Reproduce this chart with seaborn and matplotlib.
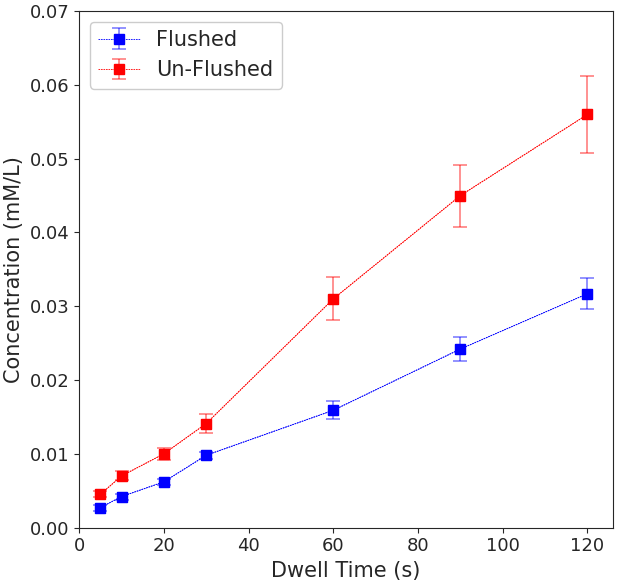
import matplotlib

matplotlib.use("Agg")

import matplotlib.pyplot as plt
import pandas as pd
import seaborn as sns

dwell_time = [5, 10, 20, 30, 60, 90, 120]
flushed = [0.0027, 0.0042, 0.0062, 0.0098, 0.0159, 0.0242, 0.0317]
flushed_err = [0.0004, 0.0004, 0.0004, 0.0005, 0.0012, 0.0016, 0.0021]
unflushed = [0.0045, 0.0070, 0.0100, 0.0141, 0.0310, 0.0450, 0.0560]
unflushed_err = [0.0004, 0.0006, 0.0008, 0.0013, 0.0029, 0.0042, 0.0052]

sns.set_style("ticks")
plt.rcParams["font.family"] = ["DejaVu Sans"]

fig, ax = plt.subplots(figsize=(6.17, 5.85), dpi=100)

series = [
    ("Flushed", flushed, flushed_err, "blue"),
    ("Un-Flushed", unflushed, unflushed_err, "red"),
]
for label, values, errors, color in series:
    df = pd.DataFrame({"x": dwell_time, "y": values})
    sns.lineplot(data=df, x="x", y="y", ax=ax, color=color, linewidth=0.6,
                 linestyle=(0, (2, 1)), marker="s", markersize=7,
                 markeredgecolor=color, alpha=0.9, legend=False)
    eb = ax.errorbar(dwell_time, values, yerr=errors, fmt="s", color=color,
                     ecolor=color, elinewidth=1.2, capsize=5, capthick=1.2,
                     markersize=7, linestyle=(0, (2, 1)), linewidth=0.6,
                     label=label)
    for part in eb[1] + eb[2]:
        part.set_alpha(0.5)

ax.set_xlim(0, 126)
ax.set_ylim(0, 0.07)
ax.set_xticks([0, 20, 40, 60, 80, 100, 120])
ax.set_xlabel("Dwell Time (s)", fontsize=15)
ax.set_ylabel("Concentration (mM/L)", fontsize=15)
ax.tick_params(labelsize=13)
for side in ["top", "right"]:
    ax.spines[side].set_visible(True)
leg = ax.legend(loc="upper left", fontsize=15, framealpha=1)
leg.get_frame().set_edgecolor("#cccccc")

plt.tight_layout(pad=0.3)
plt.savefig("out.png")
plt.close()
